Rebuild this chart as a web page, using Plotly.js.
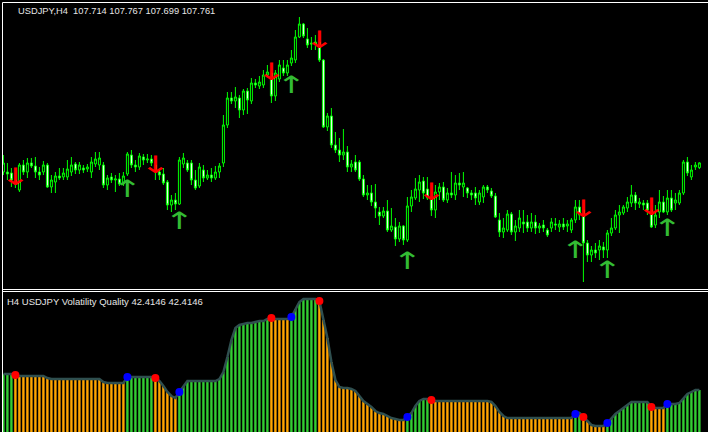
<!DOCTYPE html>
<html>
<head>
<meta charset="utf-8">
<script src="https://cdn.plot.ly/plotly-3.0.1.min.js"></script>
<style>
html,body{margin:0;padding:0;background:#000;}
#chart{width:708px;height:432px;}
#chart .textpoint text{transform-box:fill-box;transform-origin:50% 50%;transform:scaleX(1.5);}
</style>
</head>
<body>
<div id="chart"></div>
<script>
// ---- USDJPY H4 candles ----
const openP = [107.67,107.67,107.66,107.59,107.49,107.74,107.67,107.76,107.73,107.67,
 107.67,107.74,107.52,107.57,107.63,107.62,107.62,107.67,107.75,107.69,
 107.71,107.70,107.67,107.75,107.74,107.74,107.54,107.62,107.59,107.60,
 107.55,107.65,107.84,107.74,107.72,107.82,107.79,107.80,107.74,107.67,
 107.65,107.57,107.34,107.39,107.35,107.75,107.76,107.76,107.59,107.53,
 107.69,107.61,107.64,107.61,107.67,107.76,108.14,108.41,108.38,108.41,
 108.29,108.48,108.38,108.56,108.53,108.54,108.64,108.66,108.43,108.60,
 108.71,108.66,108.76,108.79,109.02,109.15,109.00,108.96,108.95,108.97,
 108.79,108.12,108.23,107.94,107.89,107.84,107.87,107.72,107.77,107.77,
 107.60,107.44,107.46,107.37,107.27,107.23,107.28,107.09,107.12,107.00,
 107.13,106.99,107.33,107.41,107.49,107.58,107.50,107.41,107.29,107.47,
 107.52,107.39,107.46,107.44,107.56,107.52,107.51,107.46,107.46,107.37,
 107.42,107.52,107.48,107.43,107.19,107.07,107.09,107.25,107.07,107.11,
 107.17,107.17,107.11,107.17,107.11,107.14,107.09,107.11,107.15,107.12,
 107.15,107.13,107.09,107.19,107.32,107.29,106.96,106.84,106.89,106.89,
 106.92,106.89,107.06,107.11,107.24,107.26,107.31,107.36,107.44,107.35,
 107.36,107.36,107.29,107.14,107.27,107.37,107.27,107.41,107.36,107.36,
 107.46,107.77,107.62,107.72,107.714];
const highP = [107.84,107.76,107.71,107.63,107.76,107.79,107.81,107.81,107.82,107.72,
 107.78,107.76,107.64,107.67,107.71,107.71,107.79,107.82,107.77,107.77,
 107.74,107.75,107.82,107.87,107.87,107.77,107.64,107.66,107.64,107.66,
 107.67,107.87,107.89,107.79,107.86,107.85,107.85,107.84,107.80,107.71,
 107.71,107.59,107.44,107.46,107.82,107.86,107.79,107.79,107.69,107.76,
 107.74,107.69,107.71,107.73,107.76,108.24,108.47,108.47,108.52,108.44,
 108.50,108.51,108.61,108.60,108.63,108.69,108.74,108.73,108.69,108.79,
 108.79,108.79,108.89,109.09,109.22,109.16,109.11,109.02,109.04,109.04,
 108.80,108.26,108.31,108.07,108.01,108.10,107.93,107.79,107.84,107.79,
 107.64,107.54,107.54,107.55,107.32,107.32,107.39,107.31,107.21,107.17,
 107.14,107.42,107.49,107.61,107.64,107.62,107.62,107.42,107.54,107.56,
 107.57,107.51,107.67,107.64,107.66,107.67,107.52,107.49,107.52,107.49,
 107.54,107.54,107.51,107.46,107.26,107.21,107.29,107.27,107.19,107.29,
 107.29,107.24,107.26,107.24,107.16,107.19,107.11,107.21,107.21,107.19,
 107.21,107.19,107.21,107.39,107.39,107.36,106.99,106.93,106.96,106.99,
 106.97,107.09,107.21,107.29,107.34,107.34,107.42,107.54,107.47,107.41,
 107.39,107.39,107.39,107.34,107.49,107.43,107.49,107.49,107.46,107.49,
 107.79,107.82,107.74,107.77,107.767];
const lowP = [107.64,107.59,107.52,107.51,107.47,107.64,107.61,107.71,107.61,107.59,
 107.64,107.51,107.46,107.46,107.59,107.59,107.59,107.63,107.65,107.65,
 107.66,107.67,107.61,107.72,107.69,107.51,107.49,107.56,107.47,107.53,
 107.53,107.63,107.71,107.67,107.69,107.74,107.76,107.73,107.59,107.59,
 107.54,107.29,107.27,107.29,107.34,107.71,107.67,107.54,107.49,107.51,
 107.57,107.59,107.57,107.59,107.61,107.72,108.11,108.35,108.31,108.21,
 108.24,108.25,108.35,108.51,108.50,108.51,108.61,108.36,108.38,108.57,
 108.63,108.63,108.73,108.76,109.01,109.01,108.91,108.89,108.89,108.77,
 108.11,108.08,107.91,107.86,107.77,107.79,107.67,107.67,107.67,107.58,
 107.42,107.39,107.33,107.21,107.14,107.21,107.07,107.07,106.93,106.97,
 106.94,106.97,107.27,107.39,107.37,107.40,107.39,107.23,107.21,107.39,
 107.37,107.36,107.41,107.39,107.49,107.42,107.41,107.39,107.34,107.34,
 107.36,107.46,107.41,107.21,107.02,107.01,107.07,107.04,106.98,107.07,
 107.06,107.07,107.07,107.05,107.06,107.07,107.02,107.07,107.09,107.07,
 107.09,107.07,107.06,107.16,107.19,106.57,106.77,106.77,106.81,106.79,
 106.81,106.81,107.03,107.09,107.06,107.24,107.27,107.32,107.29,107.31,
 107.29,107.24,107.11,107.11,107.21,107.26,107.24,107.27,107.29,107.34,
 107.44,107.63,107.59,107.69,107.699];
const closeP = [107.76,107.65,107.59,107.55,107.74,107.67,107.76,107.73,107.67,107.64,
 107.74,107.52,107.59,107.63,107.61,107.66,107.70,107.74,107.69,107.74,
 107.69,107.72,107.77,107.80,107.81,107.54,107.61,107.59,107.60,107.55,
 107.63,107.85,107.74,107.72,107.83,107.79,107.80,107.76,107.69,107.64,
 107.56,107.34,107.39,107.35,107.79,107.81,107.69,107.59,107.51,107.72,
 107.61,107.64,107.61,107.67,107.73,108.14,108.41,108.38,108.42,108.29,
 108.48,108.39,108.56,108.54,108.57,108.64,108.67,108.43,108.66,108.74,
 108.66,108.74,108.81,109.02,109.15,109.03,108.94,108.95,108.97,108.79,
 108.12,108.23,107.94,107.89,107.84,107.87,107.72,107.75,107.69,107.60,
 107.44,107.46,107.37,107.31,107.23,107.28,107.09,107.13,107.00,107.13,
 106.99,107.33,107.42,107.50,107.57,107.46,107.41,107.29,107.47,107.52,
 107.39,107.46,107.44,107.56,107.54,107.56,107.46,107.44,107.41,107.46,
 107.52,107.49,107.43,107.22,107.07,107.11,107.25,107.07,107.13,107.21,
 107.15,107.11,107.17,107.11,107.13,107.11,107.04,107.17,107.14,107.15,
 107.12,107.15,107.19,107.32,107.24,106.96,106.84,106.89,106.86,106.93,
 106.89,107.06,107.11,107.24,107.27,107.32,107.37,107.44,107.36,107.37,
 107.34,107.29,107.12,107.24,107.37,107.27,107.41,107.29,107.39,107.46,
 107.77,107.66,107.69,107.74,107.761];

// ---- Volatility Quality indicator ----
const vq = [44.01,44.01,44.01,43.91,43.81,43.81,43.81,43.81,43.81,43.81,
 43.81,43.61,43.51,43.51,43.51,43.51,43.51,43.51,43.51,43.51,
 43.51,43.51,43.51,43.51,43.51,43.21,43.11,43.11,43.11,43.11,
 43.11,43.71,43.71,43.71,43.71,43.71,43.71,43.71,43.61,43.31,
 42.81,42.21,41.81,41.61,42.21,42.81,43.31,43.31,43.31,43.31,
 43.31,43.31,43.31,43.31,43.51,44.21,45.71,47.41,48.61,48.91,
 49.01,49.11,49.11,49.21,49.31,49.31,49.51,49.61,49.51,49.51,
 49.51,49.51,49.71,50.51,51.21,51.51,51.51,51.51,51.51,51.31,
 49.41,47.61,45.21,43.41,42.71,42.61,42.61,42.51,42.31,41.81,
 41.31,41.01,40.71,40.31,40.11,40.01,39.81,39.61,39.51,39.41,
 39.41,39.71,40.11,40.81,41.31,41.51,41.51,41.41,41.31,41.31,
 41.31,41.31,41.31,41.31,41.31,41.31,41.31,41.31,41.31,41.31,
 41.31,41.31,41.21,40.81,40.21,39.81,39.61,39.61,39.61,39.61,
 39.61,39.61,39.61,39.61,39.61,39.61,39.61,39.61,39.61,39.61,
 39.61,39.61,39.61,40.01,40.11,39.71,39.31,38.91,38.81,38.81,
 38.81,39.11,39.61,40.01,40.31,40.61,40.91,41.21,41.21,41.21,
 41.21,41.21,40.71,40.61,40.61,40.61,41.01,41.01,41.01,41.11,
 41.61,42.01,42.21,42.41,42.4146];
// 1 = rising (green), -1 = falling (orange)
const trend = [1,1,1,-1,-1,-1,-1,-1,-1,-1,
 -1,-1,-1,-1,-1,-1,-1,-1,-1,-1,
 -1,-1,-1,-1,-1,-1,-1,-1,-1,-1,
 -1,1,1,1,1,1,1,1,-1,-1,
 -1,-1,-1,-1,1,1,1,1,1,1,
 1,1,1,1,1,1,1,1,1,1,
 1,1,1,1,1,1,1,-1,-1,-1,
 -1,-1,1,1,1,1,1,1,1,-1,
 -1,-1,-1,-1,-1,-1,-1,-1,-1,-1,
 -1,-1,-1,-1,-1,-1,-1,-1,-1,-1,
 -1,1,1,1,1,1,1,-1,-1,-1,
 -1,-1,-1,-1,-1,-1,-1,-1,-1,-1,
 -1,-1,-1,-1,-1,-1,-1,-1,-1,-1,
 -1,-1,-1,-1,-1,-1,-1,-1,-1,-1,
 -1,-1,-1,1,1,-1,-1,-1,-1,-1,
 -1,1,1,1,1,1,1,1,1,1,
 1,1,-1,-1,-1,-1,1,1,1,1,
 1,1,1,1,1];

// ---- signals (arrow centre prices) ----
const sellIdx = [3,38,67,79,107,145,162];
const sellPrice = [107.60,107.72,108.65,108.97,107.45,107.28,107.30];
const buyIdx = [31,44,72,101,143,151,166];
const buyPrice = [107.48,107.16,108.52,106.76,106.87,106.67,107.09];

const titleTop = 'USDJPY,H4  107.714 107.767 107.699 107.761';
const titleBottom = 'H4 USDJPY Volatility Quality 42.4146 42.4146';

const idx = closeP.map((_, i) => i);
const GREEN = '#32cd32', ORANGE = '#ffa500';

const traces = [
  {
    type: 'candlestick', x: idx, open: openP, high: highP, low: lowP, close: closeP,
    xaxis: 'x', yaxis: 'y',
    increasing: {line: {color: '#00ff00', width: 1}, fillcolor: '#000000'},
    decreasing: {line: {color: '#00ff00', width: 1}, fillcolor: '#ffffff'},
    whiskerwidth: 0, hoverinfo: 'skip'
  },
  {
    type: 'scatter', mode: 'text', x: sellIdx, y: sellPrice,
    text: sellIdx.map(() => '↓'), xaxis: 'x', yaxis: 'y',
    textfont: {family: 'DejaVu Sans', size: 24, color: '#ff0000'}, textposition: 'middle center', hoverinfo: 'skip'
  },
  {
    type: 'scatter', mode: 'text', x: buyIdx, y: buyPrice,
    text: buyIdx.map(() => '↑'), xaxis: 'x', yaxis: 'y',
    textfont: {family: 'DejaVu Sans', size: 24, color: '#33bb33'}, textposition: 'middle center', hoverinfo: 'skip'
  },
  {
    type: 'bar', x: idx, y: vq, xaxis: 'x2', yaxis: 'y2', width: 0.6,
    marker: {color: trend.map(t => t > 0 ? GREEN : ORANGE), line: {width: 0}}, hoverinfo: 'skip'
  },
  {
    type: 'scatter', mode: 'lines', x: idx, y: vq, xaxis: 'x2', yaxis: 'y2',
    line: {color: '#2f4f4f', width: 2.5}, hoverinfo: 'skip'
  },
  {
    type: 'scatter', mode: 'markers', x: sellIdx, y: sellIdx.map(i => vq[i]), xaxis: 'x2', yaxis: 'y2',
    marker: {color: '#ff0000', size: 8}, hoverinfo: 'skip'
  },
  {
    type: 'scatter', mode: 'markers', x: buyIdx, y: buyIdx.map(i => vq[i]), xaxis: 'x2', yaxis: 'y2',
    marker: {color: '#0000ff', size: 8}, hoverinfo: 'skip'
  }
];

const W = 708, H = 432;
const px = v => v / W, py = v => 1 - v / H;
const lineShape = (x0, y0, x1, y1) => ({type: 'line', xref: 'paper', yref: 'paper', x0, y0, x1, y1, line: {color: '#ffffff', width: 1}});
const xr = [-0.1, 176.15];

const layout = {
  width: W, height: H,
  margin: {l: 0, r: 0, t: 0, b: 0},
  paper_bgcolor: '#000000', plot_bgcolor: '#000000',
  showlegend: false, hovermode: false, dragmode: false,
  xaxis: {domain: [px(3), 1], range: xr, visible: false, rangeslider: {visible: false}, fixedrange: true},
  yaxis: {domain: [py(289), py(3)], range: [106.50, 109.36], visible: false, fixedrange: true},
  xaxis2: {domain: [px(3), 1], range: xr, visible: false, anchor: 'y2', fixedrange: true},
  yaxis2: {domain: [0, py(292)], range: [38.21, 52.21], visible: false, anchor: 'x2', fixedrange: true},
  shapes: [
    lineShape(px(2.5), py(2.5), 1, py(2.5)),
    lineShape(px(2.5), py(2.5), px(2.5), 0),
    lineShape(px(2.5), py(289.5), 1, py(289.5)),
    lineShape(px(2.5), py(291.5), 1, py(291.5))
  ],
  annotations: [
    {text: titleTop, xref: 'paper', yref: 'paper', x: px(16), y: py(11), xanchor: 'left', yanchor: 'middle',
     showarrow: false, font: {family: 'Liberation Sans', size: 9.3, color: '#e6e6e6'}},
    {text: titleBottom, xref: 'paper', yref: 'paper', x: px(5), y: py(301), xanchor: 'left', yanchor: 'middle',
     showarrow: false, font: {family: 'Liberation Sans', size: 9.5, color: '#e6e6e6'}}
  ]
};

Plotly.newPlot('chart', traces, layout, {staticPlot: true, displayModeBar: false});
</script>
</body>
</html>
